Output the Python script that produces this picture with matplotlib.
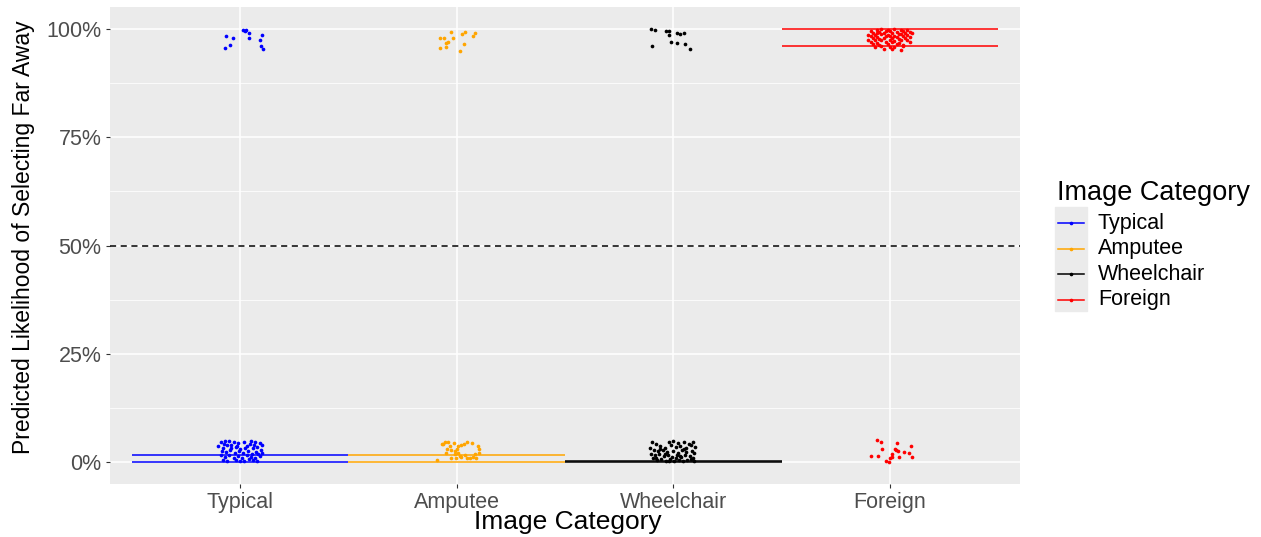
import matplotlib.pyplot as plt
from matplotlib.lines import Line2D
from matplotlib.patches import Rectangle
from matplotlib.ticker import PercentFormatter

plt.rcParams['font.family'] = ['Liberation Sans', 'DejaVu Sans']

# categories and colours
categories = ["Typical", "Amputee", "Wheelchair", "Foreign"]
colors = ["blue", "orange", "black", "red"]

# horizontal reference lines per category (lower, upper), in %
line_lo = [0.0, 0.0, 0.0, 95.9]
line_hi = [1.6, 1.6, 0.25, 100.0]

# jittered points: horizontal offset from category centre, predicted value (%)
typical_dx = [-0.09, -0.07, -0.05, -0.03, -0.01, 0.02, 0.05, 0.07, 0.09, 0.10,
              -0.10, -0.08, -0.06, -0.04, -0.02, 0.00, 0.03, 0.06, 0.08, 0.095,
              -0.085, -0.065, -0.045, -0.025, -0.005, 0.015, 0.035, 0.055, 0.075, 0.10,
              -0.09, -0.07, -0.05, -0.03, -0.01, 0.01, 0.03, 0.05, 0.07, 0.09,
              -0.08, -0.06, -0.02, 0.00, 0.02, 0.04, 0.06, 0.08, -0.04, 0.045,
              -0.075, 0.025, -0.015, 0.065, 0.085,
              -0.064, -0.031, -0.047, -0.069, 0.012, 0.028, 0.024, 0.043, 0.043,
              0.090, 0.100, 0.095, 0.104]
typical_y = [4.6, 4.9, 5.0, 4.8, 4.4, 4.7, 4.9, 4.8, 4.5, 3.9,
             3.8, 3.4, 3.9, 3.2, 3.6, 3.0, 3.7, 3.3, 3.6, 2.9,
             2.6, 2.3, 2.8, 2.1, 2.5, 2.2, 2.7, 2.0, 2.4, 2.2,
             1.6, 1.3, 1.8, 1.1, 1.5, 1.0, 1.6, 1.2, 0.9, 1.4,
             0.5, 0.3, 0.6, 0.4, 0.2, 0.7, 0.5, 0.3, 4.1, 4.3,
             4.2, 3.4, 3.8, 4.1, 1.9,
             98.2, 97.8, 96.3, 95.6, 99.8, 99.8, 99.4, 99.1, 97.9,
             97.5, 98.5, 96.0, 95.2]

amputee_dx = [-0.089, -0.055, -0.040, -0.063, -0.032, -0.012, 0.006, 0.021, 0.034,
              0.049, 0.098, 0.101, 0.101, -0.044, -0.024, -0.006, 0.003, 0.006,
              -0.009, 0.014, 0.037, 0.049, 0.060, 0.075, 0.083, 0.090, -0.002,
              -0.024, -0.047, 0.020, -0.070, 0.070,
              -0.024, -0.078, -0.060, -0.017, -0.039, -0.047, -0.050, -0.078,
              0.026, 0.040, 0.083, 0.074, 0.034, 0.014]
amputee_y = [0.46, 4.75, 4.75, 4.14, 3.76, 4.52, 3.76, 3.91, 4.29,
             4.75, 3.76, 3.00, 2.23, 3.00, 2.76, 2.61, 3.00, 2.23,
             1.84, 1.46, 1.69, 1.07, 0.92, 1.23, 1.84, 1.07, 0.92,
             1.07, 2.23, 1.30, 4.30, 4.40,
             99.3, 97.9, 97.9, 97.9, 97.0, 96.6, 95.7, 95.6,
             98.8, 99.3, 99.1, 98.2, 96.5, 94.9]

wheelchair_dx = [-0.10, -0.08, -0.02, 0.00, 0.02, 0.05, 0.07, 0.09,
                 -0.11, -0.06, -0.04, -0.01, 0.01, 0.03, 0.06, 0.08, 0.10,
                 -0.09, -0.07, -0.05, -0.03, 0.00, 0.02, 0.04, 0.06, 0.085, 0.095,
                 -0.105, -0.085, -0.065, -0.045, -0.025, -0.005, 0.015, 0.035, 0.055, 0.075, 0.09,
                 -0.095, -0.075, -0.055, -0.035, -0.015, 0.005, 0.025, 0.045, 0.065, 0.08, 0.095,
                 -0.08, -0.04, 0.01, 0.05, -0.02, 0.03, -0.06,
                 -0.104, -0.086, -0.035, -0.020, -0.021, 0.018, 0.029, 0.049, -0.011,
                 0.017, 0.055, 0.078, -0.098]
wheelchair_y = [4.6, 4.2, 4.8, 4.9, 4.5, 4.7, 4.3, 4.6,
                3.4, 3.7, 3.2, 3.9, 3.5, 3.8, 3.3, 3.9, 3.5,
                2.9, 2.5, 2.8, 2.3, 2.7, 2.2, 2.9, 2.4, 2.6, 2.1,
                2.0, 1.6, 1.9, 1.4, 1.8, 1.3, 1.7, 1.2, 1.8, 1.5, 1.1,
                0.9, 0.6, 0.8, 0.4, 0.7, 0.3, 0.6, 0.2, 0.5, 0.8, 0.4,
                1.1, 2.0, 1.0, 3.0, 0.2, 1.5, 3.0,
                99.9, 99.8, 99.4, 99.5, 98.5, 99.0, 98.7, 98.9, 96.9,
                96.8, 96.5, 95.2, 95.9]

foreign_dx = [-0.060, -0.041, 0.032, -0.037, 0.021, 0.029, 0.038, 0.096, 0.063,
              0.086, 0.009, 0.008, 0.101, -0.090, -0.054, 0.040, 0.002, -0.017, -0.003,
              -0.06, -0.04, -0.01, 0.02, 0.05, 0.08,
              -0.09, -0.05, -0.02, 0.00, 0.03, 0.06, 0.09,
              -0.08, -0.06, -0.03, 0.01, 0.04, 0.07, 0.10,
              -0.10, -0.07, -0.04, -0.01, 0.02, 0.05, 0.08,
              -0.09, -0.06, -0.02, 0.00, 0.03, 0.06, 0.09,
              -0.08, -0.05, -0.03, 0.01, 0.04, 0.07,
              -0.10, -0.07, -0.04, 0.00, 0.02, 0.05, 0.08,
              -0.09, -0.06, -0.02, 0.01, 0.04, 0.09,
              -0.08, -0.05, -0.01, 0.03, 0.06,
              -0.07, -0.04, 0.00, 0.02, 0.06,
              -0.03, 0.01, 0.05]
foreign_y = [5.06, 4.75, 4.37, 3.10, 3.10, 2.80, 2.60, 3.80, 2.45,
             2.07, 1.84, 1.23, 1.30, 1.46, 1.46, 1.23, 0.92, 0.38, 0.15,
             99.8, 99.9, 99.7, 99.9, 99.8, 99.7,
             99.4, 99.3, 99.5, 99.4, 99.2, 99.5, 99.3,
             99.0, 98.9, 99.1, 99.0, 98.8, 99.0, 98.9,
             98.6, 98.5, 98.7, 98.6, 98.4, 98.7, 98.5,
             98.2, 98.1, 98.3, 98.2, 98.0, 98.3, 98.1,
             97.8, 97.7, 97.9, 97.8, 97.6, 97.8,
             97.4, 97.3, 97.5, 97.4, 97.2, 97.5, 97.3,
             96.9, 96.8, 97.0, 96.9, 96.7, 96.9,
             96.4, 96.3, 96.5, 96.4, 96.2,
             95.8, 95.9, 95.7, 95.8, 96.0,
             95.2, 95.3, 95.1]

jitter = [typical_dx, amputee_dx, wheelchair_dx, foreign_dx]
values = [typical_y, amputee_y, wheelchair_y, foreign_y]

W, H = 1261, 537
fig = plt.figure(figsize=(W / 100, H / 100), dpi=100)
ax = fig.add_axes([110 / W, 53 / H, 910 / W, 477 / H])
ax.set_facecolor("#EBEBEB")
for s in ax.spines.values():
    s.set_visible(False)

pos = range(1, len(categories) + 1)
for i, (cat, col) in enumerate(zip(categories, colors)):
    x0 = i + 1
    ax.hlines([line_lo[i], line_hi[i]], x0 - 0.5, x0 + 0.5, color=col, lw=1.1, zorder=3)
    xs = [x0 + d for d in jitter[i]]
    ax.scatter(xs, values[i], s=7, color=col, linewidths=0, zorder=4)

# 50% reference line
ax.axhline(50, color="black", lw=1.1, ls=(0, (4, 3)), zorder=3)

ax.set_xlim(0.4, 4.6)
ax.set_ylim(-5, 105)
ax.set_xticks(list(pos))
ax.set_xticklabels(categories)
ax.set_yticks([0, 25, 50, 75, 100])
ax.set_yticks([12.5, 37.5, 62.5, 87.5], minor=True)
ax.yaxis.set_major_formatter(PercentFormatter(decimals=0))
ax.grid(which="major", color="white", lw=1.1)
ax.grid(which="minor", axis="y", color="white", lw=0.55)
ax.set_axisbelow(True)
ax.tick_params(axis="both", which="major", length=3, width=0.8, color="#333333",
               labelcolor="#4D4D4D", labelsize=15.5, pad=3)
ax.tick_params(axis="y", which="minor", length=0)

ax.set_xlabel("Image Category", fontsize=19)
ax.xaxis.set_label_coords(0.503, -(522 - 484) / 477)
ax.xaxis.label.set_va("center")
ax.set_ylabel("Predicted Likelihood of Selecting Far Away", fontsize=16.5)
ax.yaxis.set_label_coords(-(110 - 24) / 910, (484 - 237) / 477)
ax.yaxis.label.set_va("center")

# legend drawn by hand in figure pixel coordinates
fx = lambda px: px / W
fy = lambda py: 1 - py / H
fig.text(fx(1057), fy(193), "Image Category", fontsize=19.5, va="center", ha="left")
fig.patches.append(Rectangle((fx(1055), fy(311)), fx(32), 104 / H,
                             transform=fig.transFigure, color="#EBEBEB", zorder=0))
for i, (cat, col) in enumerate(zip(categories, colors)):
    yy = fy(223 + i * 25.5)
    fig.lines.append(Line2D([fx(1058), fx(1084)], [yy, yy], color=col, lw=1.1,
                            transform=fig.transFigure))
    fig.lines.append(Line2D([fx(1071)], [yy], color=col, marker="o", ms=1.6,
                            transform=fig.transFigure))
    fig.text(fx(1098), yy, cat, fontsize=15.5, va="center", ha="left")

fig.savefig("out.png", dpi=100)
